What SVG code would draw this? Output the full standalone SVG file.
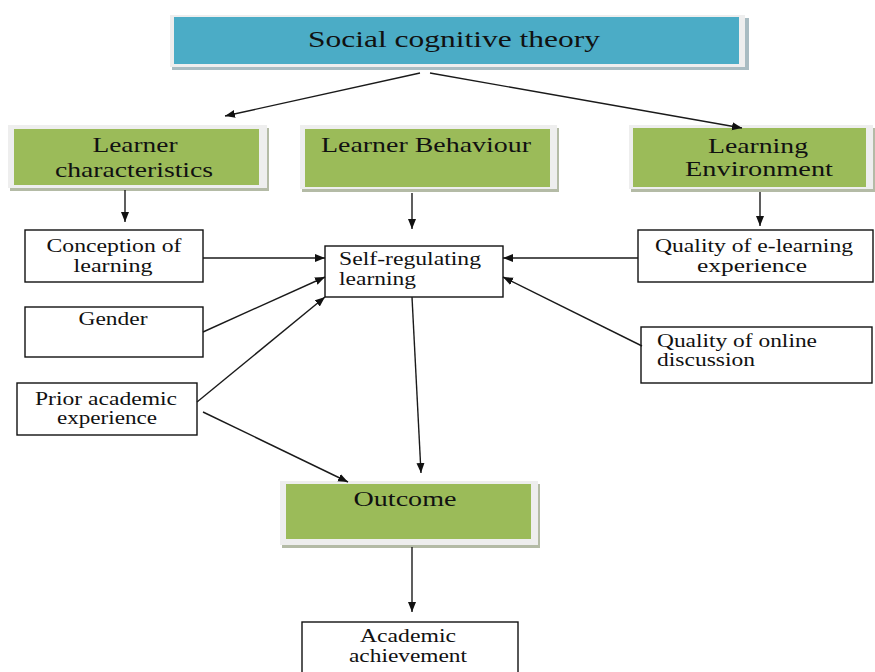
<svg xmlns="http://www.w3.org/2000/svg" width="875" height="672" viewBox="0 0 875 672">
<style>
text{font-family:"Liberation Serif","Times New Roman",serif;fill:#111;}
.big{font-size:23px;}
.mid{font-size:22px;}
.sm{font-size:18px;}
.mc{text-anchor:middle;}
.box{fill:#fff;stroke:#111;stroke-width:1.4;}
.frame{fill:#eeeeee;}
.shadow{fill:#b4bba6;}
.green{fill:#9bbb59;}
.blue{fill:#4bacc6;}
.conn line{stroke:#1a1a1a;stroke-width:1.4;fill:none;marker-end:url(#ah);}
</style>
<defs>
<marker id="ah" markerUnits="userSpaceOnUse" markerWidth="12" markerHeight="10" refX="10" refY="4" orient="auto">
<path d="M0,0 L10,4 L0,8 z" fill="#111"/>
</marker>
</defs>
<rect width="875" height="672" fill="#fff"/>

<g id="social-cognitive-theory">
<rect x="172" y="18" width="577" height="52" fill="#a9bcc2"/>
<rect x="170" y="15" width="575" height="52" class="frame"/>
<rect x="174" y="17" width="565" height="47" class="blue"/>
<text x="454" y="47" class="big mc" textLength="292" lengthAdjust="spacingAndGlyphs">Social cognitive theory</text>
</g>

<g id="learner-characteristics">
<rect x="10" y="128" width="259" height="63" class="shadow"/>
<rect x="8" y="125" width="259" height="63" class="frame"/>
<rect x="14" y="129" width="245" height="56" class="green"/>
<text x="135" y="152" class="mid mc" textLength="85" lengthAdjust="spacingAndGlyphs">Learner</text>
<text x="134" y="177" class="mid mc" textLength="158" lengthAdjust="spacingAndGlyphs">characteristics</text>
</g>

<g id="learner-behaviour">
<rect x="302" y="128" width="257" height="64" class="shadow"/>
<rect x="300" y="125" width="257" height="64" class="frame"/>
<rect x="305" y="129" width="245" height="58" class="green"/>
<text x="426" y="152" class="mid mc" textLength="210" lengthAdjust="spacingAndGlyphs">Learner Behaviour</text>
</g>

<g id="learning-environment">
<rect x="631" y="128" width="244" height="64" class="shadow"/>
<rect x="629" y="125" width="244" height="64" class="frame"/>
<rect x="633" y="128" width="233" height="59" class="green"/>
<text x="758" y="153" class="mid mc" textLength="100" lengthAdjust="spacingAndGlyphs">Learning</text>
<text x="759" y="176" class="mid mc" textLength="148" lengthAdjust="spacingAndGlyphs">Environment</text>
</g>

<g id="conception-of-learning">
<rect x="25" y="230" width="178" height="52" class="box"/>
<text x="114" y="252" class="sm mc" textLength="135" lengthAdjust="spacingAndGlyphs">Conception of</text>
<text x="113" y="272" class="sm mc" textLength="79" lengthAdjust="spacingAndGlyphs">learning</text>
</g>

<g id="gender">
<rect x="25" y="307" width="178" height="50" class="box"/>
<text x="113" y="325" class="sm mc" textLength="69" lengthAdjust="spacingAndGlyphs">Gender</text>
</g>

<g id="prior-academic-experience">
<rect x="17" y="383" width="180" height="52" class="box"/>
<text x="106" y="405" class="sm mc" textLength="142" lengthAdjust="spacingAndGlyphs">Prior academic</text>
<text x="107" y="424" class="sm mc" textLength="100" lengthAdjust="spacingAndGlyphs">experience</text>
</g>

<g id="self-regulating-learning">
<rect x="325" y="246" width="178" height="51" class="box"/>
<text x="339" y="265" class="sm" textLength="142" lengthAdjust="spacingAndGlyphs">Self-regulating</text>
<text x="339" y="285" class="sm" textLength="77" lengthAdjust="spacingAndGlyphs">learning</text>
</g>

<g id="quality-e-learning">
<rect x="638" y="230" width="235" height="52" class="box"/>
<text x="754" y="252" class="sm mc" textLength="198" lengthAdjust="spacingAndGlyphs">Quality of e-learning</text>
<text x="752" y="272" class="sm mc" textLength="110" lengthAdjust="spacingAndGlyphs">experience</text>
</g>

<g id="quality-online-discussion">
<rect x="641" y="327" width="231" height="56" class="box"/>
<text x="657" y="347" class="sm" textLength="160" lengthAdjust="spacingAndGlyphs">Quality of online</text>
<text x="657" y="366" class="sm" textLength="98" lengthAdjust="spacingAndGlyphs">discussion</text>
</g>

<g id="outcome">
<rect x="282" y="484" width="258" height="64" class="shadow"/>
<rect x="280" y="481" width="258" height="64" class="frame"/>
<rect x="286" y="484" width="245" height="55" class="green"/>
<text x="405" y="506" class="mid mc" textLength="103" lengthAdjust="spacingAndGlyphs">Outcome</text>
</g>

<g id="academic-achievement">
<rect x="302" y="622" width="216" height="60" class="box"/>
<text x="408" y="642" class="sm mc" textLength="96" lengthAdjust="spacingAndGlyphs">Academic</text>
<text x="408" y="662" class="sm mc" textLength="118" lengthAdjust="spacingAndGlyphs">achievement</text>
</g>

<g id="connectors" class="conn">
<line x1="420" y1="73" x2="225" y2="116"/>
<line x1="430" y1="73" x2="742" y2="128"/>
<line x1="125" y1="190" x2="125" y2="222"/>
<line x1="412" y1="193" x2="412" y2="229"/>
<line x1="760" y1="192" x2="760" y2="226"/>
<line x1="203" y1="258" x2="325" y2="258"/>
<line x1="203" y1="332" x2="325" y2="277"/>
<line x1="197" y1="402" x2="325" y2="297"/>
<line x1="203" y1="412" x2="348" y2="482"/>
<line x1="412" y1="297" x2="421" y2="473"/>
<line x1="638" y1="258" x2="503" y2="258"/>
<line x1="642" y1="346" x2="503" y2="277"/>
<line x1="412" y1="547" x2="412" y2="612"/>
</g>
</svg>
